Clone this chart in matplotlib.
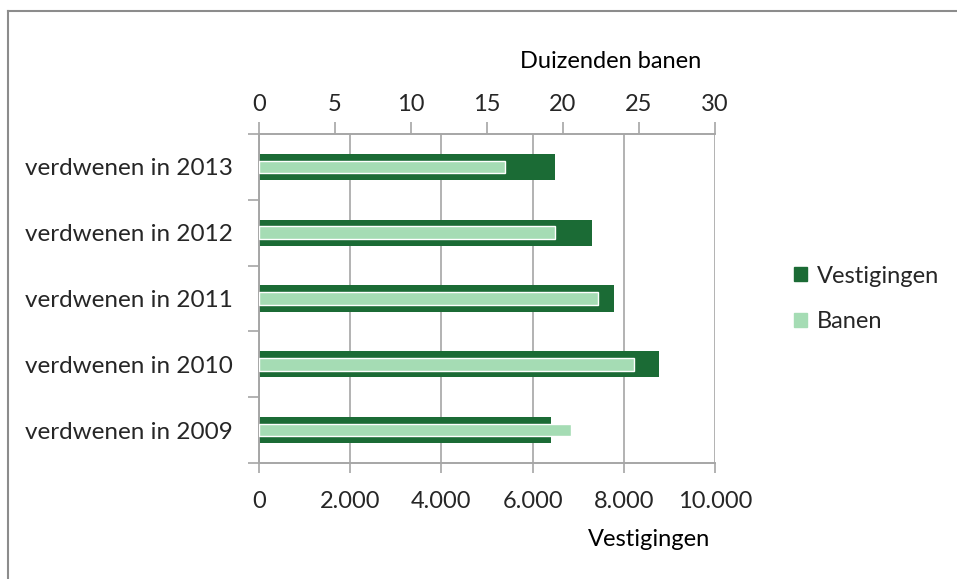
import matplotlib
matplotlib.use("Agg")
import matplotlib.pyplot as plt
from matplotlib.lines import Line2D
from matplotlib.patches import Patch
import numpy as np

# data
categories = ["verdwenen in 2009", "verdwenen in 2010", "verdwenen in 2011",
              "verdwenen in 2012", "verdwenen in 2013"]
vestigingen = [6410, 8770, 7790, 7310, 6490]          # bottom axis
banen = [20.5, 24.7, 22.3, 19.5, 16.2]                # top axis, thousands

bottom_ticks = [0, 2000, 4000, 6000, 8000, 10000]
bottom_labels = ["0", "2.000", "4.000", "6.000", "8.000", "10.000"]
top_ticks = [0, 5, 10, 15, 20, 25, 30]

dark = "#1b6b35"
light = "#a5dcb4"
grid_col = "#a6a6a6"
txt_col = "#262626"

plt.rcParams["font.family"] = ["Lato", "DejaVu Sans"]
plt.rcParams["font.size"] = 17
plt.rcParams["text.color"] = txt_col

fig = plt.figure(figsize=(9.57, 5.79), dpi=100)
ax = fig.add_axes([259 / 957, 1 - 463 / 579, 456 / 957, 329 / 579])
ax2 = ax.twiny()

y = np.arange(len(categories))

ax.barh(y, vestigingen, height=0.4, color=dark, zorder=2)
ax2.barh(y, banen, height=0.19, color=light, edgecolor="white",
         linewidth=1.0, zorder=3)

ax.set_xlim(0, 10000)
ax2.set_xlim(0, 30)
ax.set_ylim(-0.5, len(categories) - 0.5)

ax.set_xticks(bottom_ticks)
ax.set_xticklabels(bottom_labels)
ax2.set_xticks(top_ticks)

ax.set_yticks(y)
ax.set_yticklabels(categories, fontsize=17.5)
ax.set_yticks(np.arange(-0.5, len(categories)), minor=True)
ax.tick_params(axis="y", which="major", length=0, pad=19, colors=txt_col)
ax.tick_params(axis="y", which="minor", length=8, color=grid_col, width=1.2)
ax.tick_params(axis="x", length=7, color=grid_col, width=1.2, pad=13,
               labelcolor=txt_col)
ax2.tick_params(axis="x", length=9, color=grid_col, width=1.2, pad=5,
                labelcolor=txt_col)

ax.grid(axis="x", color=grid_col, linewidth=1.2)
ax.set_axisbelow(True)

for a in (ax, ax2):
    a.spines["right"].set_visible(False)
    for side in ("top", "bottom", "left"):
        a.spines[side].set_color(grid_col)
        a.spines[side].set_linewidth(1.2)

ax.set_xlabel("Vestigingen")
ax.xaxis.set_label_coords(0.855, -0.2)
ax2.set_xlabel("Duizenden banen")
ax2.xaxis.set_label_coords(0.771, 1.2)

handles = [Patch(facecolor=dark, edgecolor=dark),
           Patch(facecolor=light, edgecolor=light)]
fig.legend(handles, ["Vestigingen", "Banen"], loc="center left",
           bbox_to_anchor=(773 / 957, 1 - 299 / 579), frameon=False,
           handlelength=0.55, handleheight=0.55, handletextpad=0.4,
           labelspacing=1.05, fontsize=17)

# chart frame (only top and left edges are inside the picture)
fig.add_artist(Line2D([8 / 957, 1], [1 - 11 / 579, 1 - 11 / 579],
                      color="#8c8c8c", linewidth=1.5))
fig.add_artist(Line2D([8 / 957, 8 / 957], [0, 1 - 11 / 579],
                      color="#8c8c8c", linewidth=1.5))

fig.savefig("out.png", dpi=100)
